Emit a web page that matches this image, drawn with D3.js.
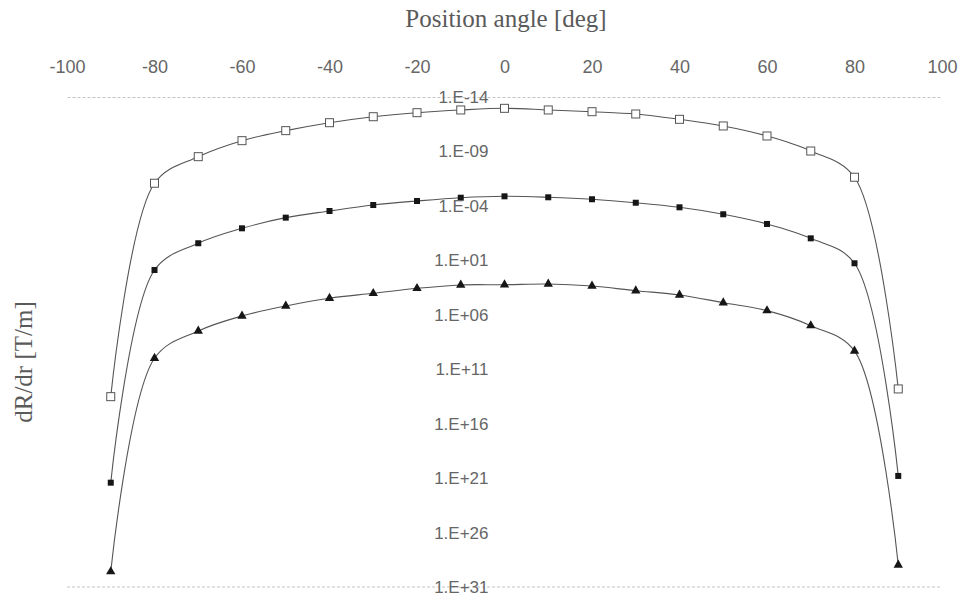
<!DOCTYPE html>
<html>
<head>
<meta charset="utf-8">
<script src="https://cdn.jsdelivr.net/npm/d3@7"></script>
<style>
  html, body { margin: 0; padding: 0; background: #fff; }
  svg { display: block; }
  .tick text { font-family: "Liberation Sans", Arial, sans-serif; fill: #666; }
  .title { font-family: "Liberation Serif", "Times New Roman", serif; fill: #5a5a5a; }
</style>
</head>
<body>
<svg id="chart"></svg>
<script>
// position angle [deg]
const angles = [-90, -80, -70, -60, -50, -40, -30, -20, -10, 0, 10, 20, 30, 40, 50, 60, 70, 80, 90];
// dR/dr values, stored as log10 exponents
const openSquaresLog = [13.52, -6.08, -8.52, -9.99, -10.91, -11.64, -12.19, -12.56, -12.81, -12.96,
  -12.81, -12.65, -12.44, -11.95, -11.34, -10.42, -9.04, -6.63, 12.81];
const filledSquaresLog = [21.42, 1.89, -0.57, -1.94, -2.92, -3.53, -4.08, -4.45, -4.75, -4.88,
  -4.79, -4.61, -4.29, -3.87, -3.23, -2.34, -1.02, 1.27, 20.8];
const trianglesLog = [29.59, 9.99, 7.49, 6.11, 5.19, 4.48, 4.03, 3.57, 3.26, 3.24,
  3.17, 3.36, 3.79, 4.18, 4.89, 5.62, 7.0, 9.32, 28.98];
const xTicks = [-100, -80, -60, -40, -20, 0, 20, 40, 60, 80, 100];
const yTickExps = [-14, -9, -4, 1, 6, 11, 16, 21, 26, 31];

const width = 965, height = 601;
const svg = d3.select("#chart").attr("width", width).attr("height", height);

const x = d3.scaleLinear().domain([-100, 100]).range([67, 942]);
const y = d3.scaleLog().domain([1e-14, 1e31]).range([97, 587]);

const fmt = v => {
  const e = Math.round(Math.log10(v));
  return "1.E" + (e < 0 ? "-" : "+") + String(Math.abs(e)).padStart(2, "0");
};

// bottom border (faint dotted)
svg.append("line")
  .attr("x1", x(-100)).attr("x2", x(100))
  .attr("y1", y(1e31)).attr("y2", y(1e31))
  .attr("stroke", "#c4c4c4").attr("stroke-width", 1).attr("stroke-dasharray", "3,2");

const series = [
  { name: "open", vals: openSquaresLog },
  { name: "filled", vals: filledSquaresLog },
  { name: "tri", vals: trianglesLog }
].map(s => ({ name: s.name, pts: angles.map((a, i) => ({ a: a, v: Math.pow(10, s.vals[i]) })) }));

const line = d3.line()
  .x(d => x(d.a))
  .y(d => y(d.v))
  .curve(d3.curveCatmullRom.alpha(0.5));

svg.append("g").selectAll("path")
  .data(series)
  .enter().append("path")
  .attr("d", d => line(d.pts))
  .attr("fill", "none")
  .attr("stroke", "#555")
  .attr("stroke-width", 1.1);

// markers
svg.append("g").selectAll("rect")
  .data(series[0].pts)
  .enter().append("rect")
  .attr("x", d => x(d.a) - 4).attr("y", d => y(d.v) - 4)
  .attr("width", 8).attr("height", 8)
  .attr("fill", "#fff").attr("stroke", "#555").attr("stroke-width", 1);

svg.append("g").selectAll("rect")
  .data(series[1].pts)
  .enter().append("rect")
  .attr("x", d => x(d.a) - 3).attr("y", d => y(d.v) - 3)
  .attr("width", 6).attr("height", 6)
  .attr("fill", "#161616");

const tri = d3.symbol().type(d3.symbolTriangle).size(38);
svg.append("g").selectAll("path")
  .data(series[2].pts)
  .enter().append("path")
  .attr("transform", d => `translate(${x(d.a)},${y(d.v)})`)
  .attr("d", tri)
  .attr("fill", "#161616");

// x axis on top
const xAxis = svg.append("g")
  .attr("transform", `translate(0,${y(1e-14)})`)
  .call(d3.axisTop(x).tickValues(xTicks).tickSize(0).tickPadding(24).tickFormat(d3.format("d")));
xAxis.select(".domain").attr("stroke", "#c4c4c4").attr("stroke-dasharray", "3,2");
xAxis.selectAll("text").style("font-size", "18px").text(d => d < 0 ? "-" + Math.abs(d) : d);

// y axis labels in the middle
const yAxis = svg.append("g")
  .attr("transform", `translate(${x(0)},0)`)
  .call(d3.axisLeft(y).tickValues(yTickExps.map(e => Math.pow(10, e))).tickSize(0).tickPadding(16).tickFormat(fmt));
yAxis.select(".domain").remove();
yAxis.selectAll("text").style("font-size", "17px");

// titles
svg.append("text")
  .attr("class", "title")
  .attr("x", 506).attr("y", 27)
  .attr("text-anchor", "middle")
  .style("font-size", "25px")
  .text("Position angle [deg]");

svg.append("text")
  .attr("class", "title")
  .attr("transform", "translate(32,362) rotate(-90)")
  .attr("text-anchor", "middle")
  .style("font-size", "25px")
  .text("dR/dr [T/m]");
</script>
</body>
</html>
